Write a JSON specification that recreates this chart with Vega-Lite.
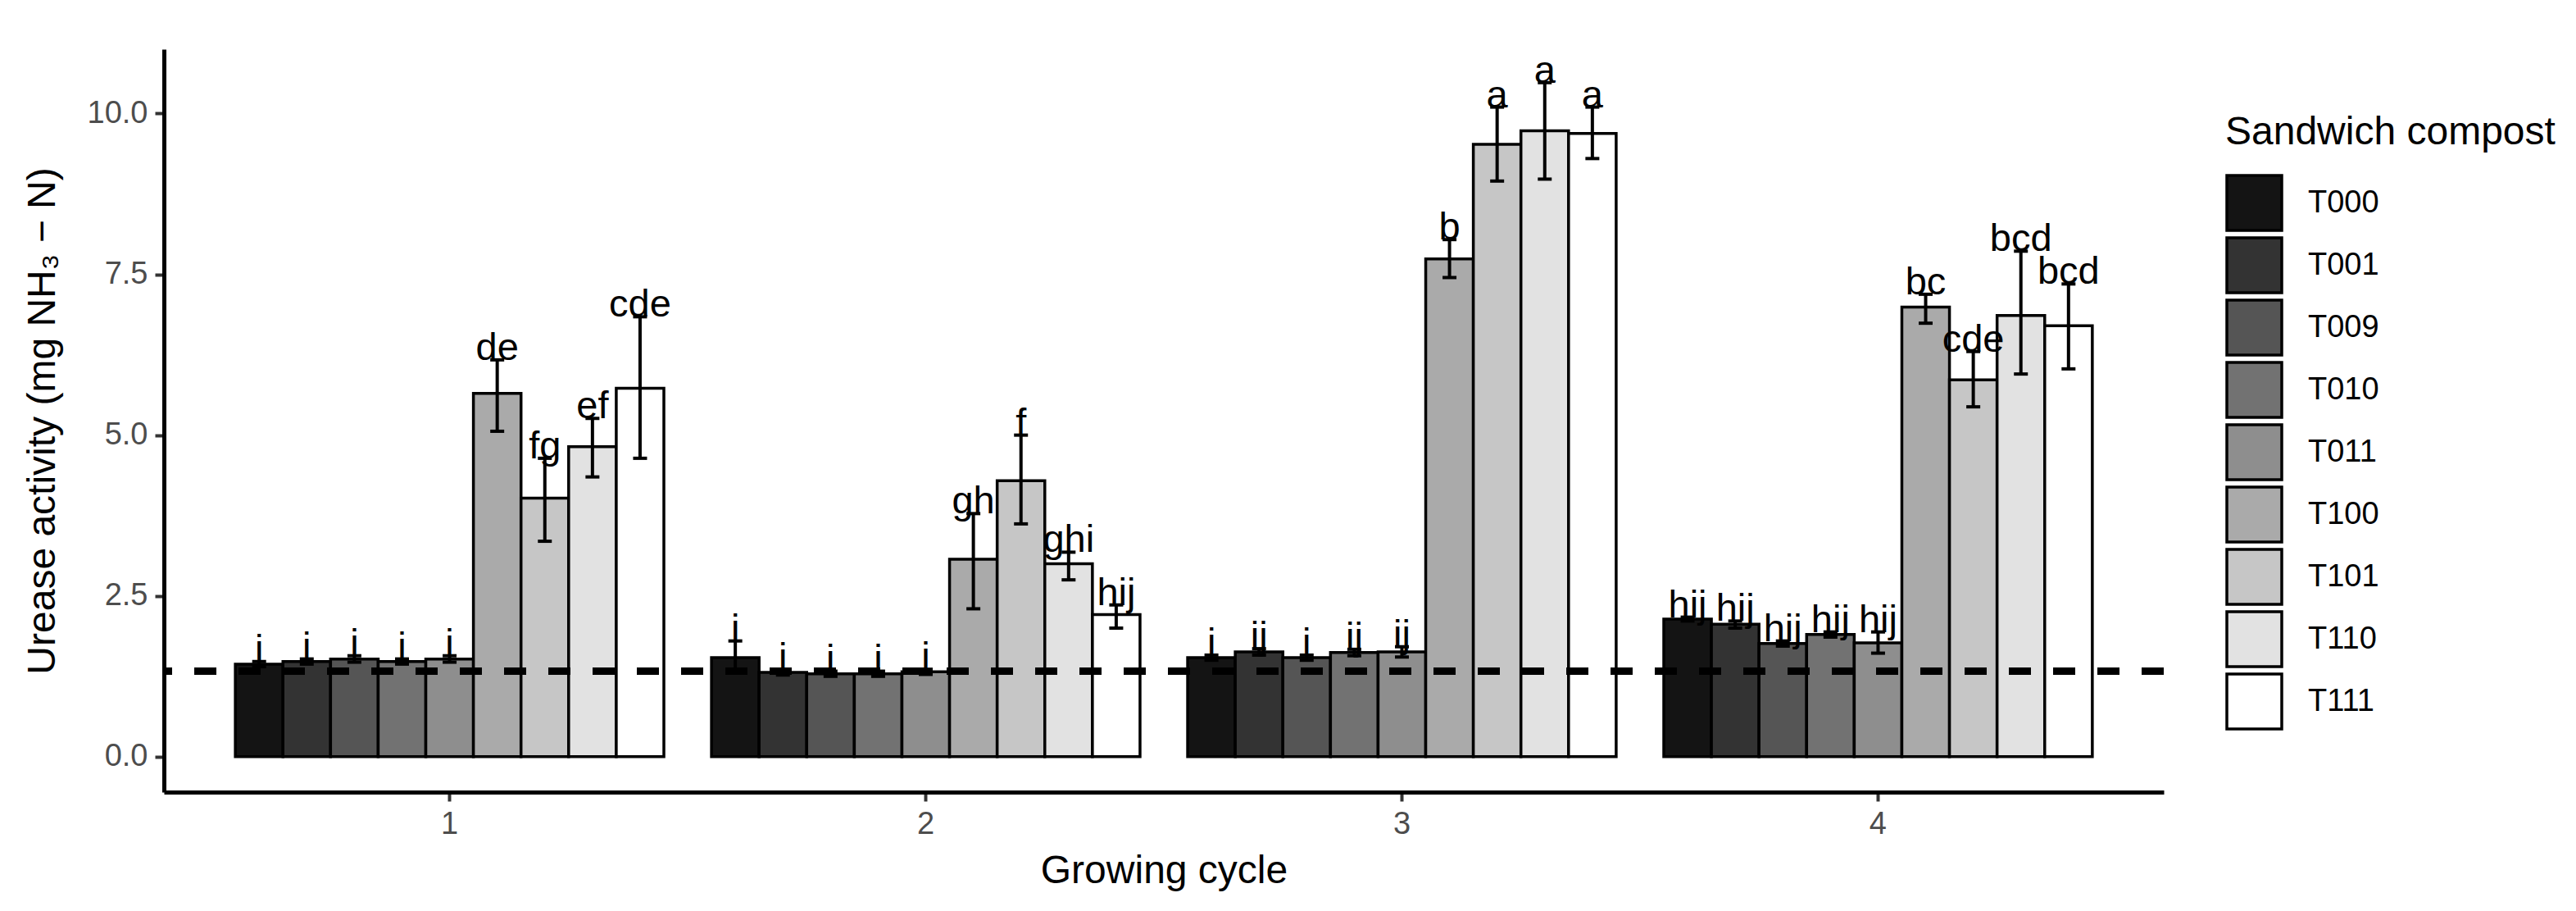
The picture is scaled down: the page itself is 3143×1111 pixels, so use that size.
{
  "$schema": "https://vega.github.io/schema/vega-lite/v6.json",
  "width": 2440,
  "height": 906,
  "autosize": {"type": "none"},
  "padding": {"left": 200, "top": 60, "right": 503, "bottom": 145},
  "background": "white",
  "config": {
    "view": {"stroke": null},
    "font": "Liberation Sans",
    "axis": {
      "grid": false,
      "domainColor": "black",
      "domainWidth": 5,
      "tickColor": "#333333",
      "tickWidth": 4,
      "tickSize": 11,
      "labelFont": "Liberation Sans",
      "labelFontSize": 38,
      "labelColor": "#4D4D4D",
      "labelPadding": 9,
      "titleFont": "Liberation Sans",
      "titleFontSize": 48,
      "titleFontWeight": "normal",
      "titleColor": "black"
    },
    "legend": {
      "titleFont": "Liberation Sans",
      "titleFontSize": 48,
      "titleFontWeight": "normal",
      "titleColor": "black",
      "titleLimit": 1000,
      "labelFont": "Liberation Sans",
      "labelFontSize": 38,
      "labelColor": "black",
      "labelLimit": 500
    }
  },
  "data": {
    "values": [
      {"cycle": "1", "compost": "T000", "mean": 1.44, "lo": 1.40, "hi": 1.48, "label": "i"},
      {"cycle": "1", "compost": "T001", "mean": 1.48, "lo": 1.44, "hi": 1.52, "label": "i"},
      {"cycle": "1", "compost": "T009", "mean": 1.52, "lo": 1.47, "hi": 1.57, "label": "i"},
      {"cycle": "1", "compost": "T010", "mean": 1.48, "lo": 1.44, "hi": 1.52, "label": "i"},
      {"cycle": "1", "compost": "T011", "mean": 1.52, "lo": 1.47, "hi": 1.57, "label": "i"},
      {"cycle": "1", "compost": "T100", "mean": 5.65, "lo": 5.06, "hi": 6.17, "label": "de"},
      {"cycle": "1", "compost": "T101", "mean": 4.02, "lo": 3.35, "hi": 4.64, "label": "fg"},
      {"cycle": "1", "compost": "T110", "mean": 4.82, "lo": 4.35, "hi": 5.26, "label": "ef"},
      {"cycle": "1", "compost": "T111", "mean": 5.73, "lo": 4.64, "hi": 6.84, "label": "cde"},
      {"cycle": "2", "compost": "T000", "mean": 1.54, "lo": 1.31, "hi": 1.80, "label": "i"},
      {"cycle": "2", "compost": "T001", "mean": 1.31, "lo": 1.27, "hi": 1.35, "label": "i"},
      {"cycle": "2", "compost": "T009", "mean": 1.29, "lo": 1.25, "hi": 1.33, "label": "i"},
      {"cycle": "2", "compost": "T010", "mean": 1.29, "lo": 1.25, "hi": 1.33, "label": "i"},
      {"cycle": "2", "compost": "T011", "mean": 1.32, "lo": 1.28, "hi": 1.36, "label": "i"},
      {"cycle": "2", "compost": "T100", "mean": 3.07, "lo": 2.30, "hi": 3.78, "label": "gh"},
      {"cycle": "2", "compost": "T101", "mean": 4.29, "lo": 3.62, "hi": 5.00, "label": "f"},
      {"cycle": "2", "compost": "T110", "mean": 3.00, "lo": 2.75, "hi": 3.18, "label": "ghi"},
      {"cycle": "2", "compost": "T111", "mean": 2.21, "lo": 2.00, "hi": 2.36, "label": "hij"},
      {"cycle": "3", "compost": "T000", "mean": 1.54, "lo": 1.50, "hi": 1.58, "label": "i"},
      {"cycle": "3", "compost": "T001", "mean": 1.63, "lo": 1.58, "hi": 1.68, "label": "ij"},
      {"cycle": "3", "compost": "T009", "mean": 1.54, "lo": 1.50, "hi": 1.58, "label": "i"},
      {"cycle": "3", "compost": "T010", "mean": 1.62, "lo": 1.57, "hi": 1.67, "label": "ij"},
      {"cycle": "3", "compost": "T011", "mean": 1.63, "lo": 1.55, "hi": 1.71, "label": "ij"},
      {"cycle": "3", "compost": "T100", "mean": 7.74, "lo": 7.45, "hi": 8.04, "label": "b"},
      {"cycle": "3", "compost": "T101", "mean": 9.52, "lo": 8.95, "hi": 10.10, "label": "a"},
      {"cycle": "3", "compost": "T110", "mean": 9.73, "lo": 8.98, "hi": 10.48, "label": "a"},
      {"cycle": "3", "compost": "T111", "mean": 9.69, "lo": 9.30, "hi": 10.10, "label": "a"},
      {"cycle": "4", "compost": "T000", "mean": 2.14, "lo": 2.11, "hi": 2.17, "label": "hij"},
      {"cycle": "4", "compost": "T001", "mean": 2.06, "lo": 2.00, "hi": 2.11, "label": "hij"},
      {"cycle": "4", "compost": "T009", "mean": 1.76, "lo": 1.72, "hi": 1.80, "label": "hij"},
      {"cycle": "4", "compost": "T010", "mean": 1.90, "lo": 1.86, "hi": 1.94, "label": "hij"},
      {"cycle": "4", "compost": "T011", "mean": 1.77, "lo": 1.61, "hi": 1.94, "label": "hij"},
      {"cycle": "4", "compost": "T100", "mean": 6.99, "lo": 6.74, "hi": 7.19, "label": "bc"},
      {"cycle": "4", "compost": "T101", "mean": 5.86, "lo": 5.44, "hi": 6.30, "label": "cde"},
      {"cycle": "4", "compost": "T110", "mean": 6.86, "lo": 5.95, "hi": 7.86, "label": "bcd"},
      {"cycle": "4", "compost": "T111", "mean": 6.70, "lo": 6.03, "hi": 7.35, "label": "bcd"}
    ]
  },
  "layer": [
    {
      "mark": {"type": "bar", "stroke": "black", "strokeWidth": 3.5},
      "encoding": {
        "x": {
          "field": "cycle", "type": "nominal",
          "scale": {"type": "band", "paddingInner": 0.1, "paddingOuter": 0.15},
          "axis": {"title": "Growing cycle", "labelAngle": 0, "titlePadding": 14}
        },
        "xOffset": {
          "field": "compost", "type": "nominal",
          "scale": {"paddingInner": 0, "paddingOuter": 0},
          "sort": ["T000", "T001", "T009", "T010", "T011", "T100", "T101", "T110", "T111"]
        },
        "y": {
          "field": "mean", "type": "quantitative", "stack": null,
          "scale": {"domain": [-0.55, 11.0], "nice": false, "zero": false},
          "axis": {
            "title": "Urease activity (mg NH₃ − N)",
            "values": [0, 2.5, 5, 7.5, 10],
            "format": ".1f",
            "titlePadding": 30
          }
        },
        "fill": {
          "field": "compost", "type": "nominal",
          "scale": {
            "domain": ["T000", "T001", "T009", "T010", "T011", "T100", "T101", "T110", "T111"],
            "range": ["#141414", "#333333", "#555555", "#727272", "#8e8e8e", "#aaaaaa", "#c6c6c6", "#e2e2e2", "#ffffff"]
          },
          "legend": {
            "title": "Sandwich compost",
            "orient": "none",
            "legendX": 2515,
            "legendY": 78,
            "padding": 0,
            "symbolType": "square",
            "symbolSize": 4489,
            "symbolStrokeColor": "black",
            "symbolStrokeWidth": 3.5,
            "rowPadding": -10,
            "labelOffset": 30,
            "titlePadding": 26
          }
        }
      }
    },
    {
      "mark": {"type": "rule", "stroke": "black", "strokeWidth": 4},
      "encoding": {
        "x": {"field": "cycle", "type": "nominal"},
        "xOffset": {"field": "compost", "type": "nominal", "sort": ["T000", "T001", "T009", "T010", "T011", "T100", "T101", "T110", "T111"]},
        "y": {"field": "lo", "type": "quantitative"},
        "y2": {"field": "hi"}
      }
    },
    {
      "mark": {"type": "tick", "color": "black", "thickness": 4, "size": 17, "orient": "horizontal", "opacity": 1},
      "encoding": {
        "x": {"field": "cycle", "type": "nominal"},
        "xOffset": {"field": "compost", "type": "nominal", "sort": ["T000", "T001", "T009", "T010", "T011", "T100", "T101", "T110", "T111"]},
        "y": {"field": "lo", "type": "quantitative"}
      }
    },
    {
      "mark": {"type": "tick", "color": "black", "thickness": 4, "size": 17, "orient": "horizontal", "opacity": 1},
      "encoding": {
        "x": {"field": "cycle", "type": "nominal"},
        "xOffset": {"field": "compost", "type": "nominal", "sort": ["T000", "T001", "T009", "T010", "T011", "T100", "T101", "T110", "T111"]},
        "y": {"field": "hi", "type": "quantitative"}
      }
    },
    {
      "mark": {"type": "text", "font": "Liberation Sans", "fontSize": 47, "color": "black", "baseline": "alphabetic", "align": "center", "dy": 0},
      "encoding": {
        "x": {"field": "cycle", "type": "nominal"},
        "xOffset": {"field": "compost", "type": "nominal", "sort": ["T000", "T001", "T009", "T010", "T011", "T100", "T101", "T110", "T111"]},
        "y": {"field": "hi", "type": "quantitative"},
        "text": {"field": "label"}
      }
    },
    {
      "mark": {"type": "rule", "stroke": "black", "strokeWidth": 9, "strokeDash": [27, 27]},
      "encoding": {"y": {"datum": 1.33}}
    }
  ]
}
